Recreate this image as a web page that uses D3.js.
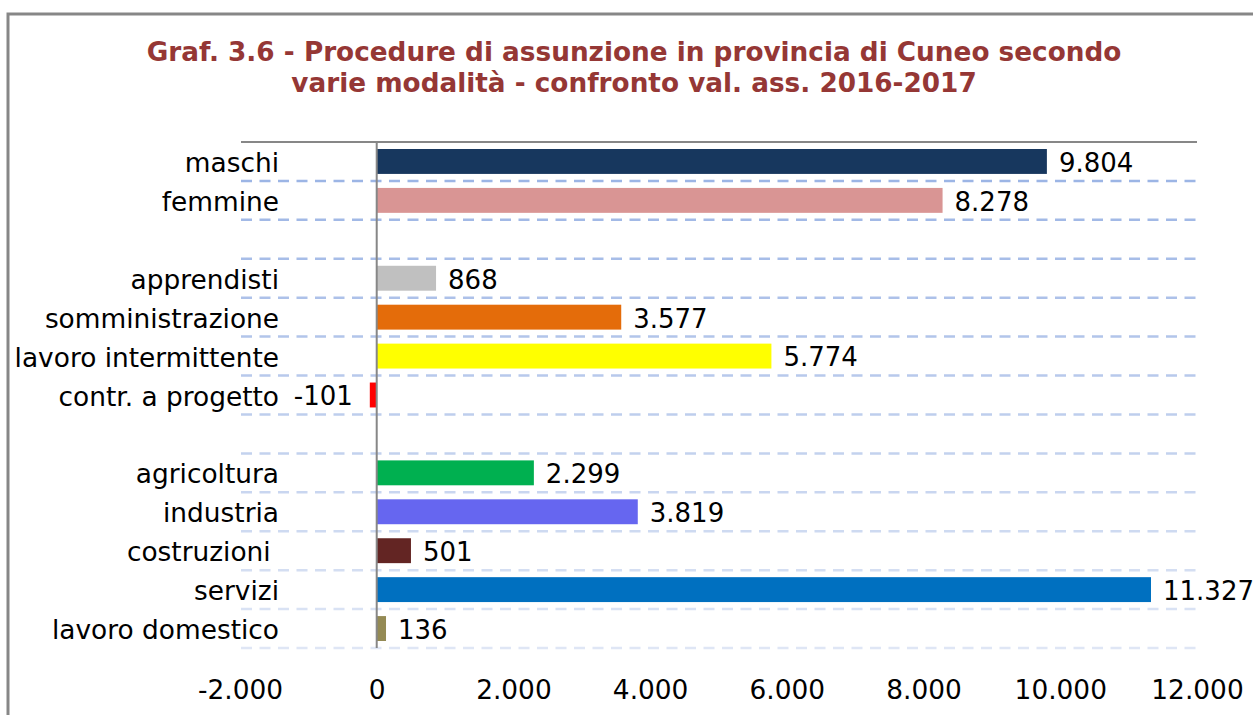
<!DOCTYPE html>
<html>
<head>
<meta charset="utf-8">
<script src="https://cdn.jsdelivr.net/npm/d3@7"></script>
<style>
	body { margin: 0; background: #fff; }
	text { font-family: Verdana, "DejaVu Sans", sans-serif; }
</style>
</head>
<body>
<svg id="chart" width="1253" height="715"></svg>
<script>
'use strict';

//Chart data (empty strings are the blank separator rows)
var categories = ["maschi", "femmine", "", "apprendisti", "somministrazione", "lavoro intermittente",
	"contr. a progetto", " ", "agricoltura", "industria", "costruzioni\u00a0", "servizi", "lavoro domestico"];
var values = [9804, 8278, null, 868, 3577, 5774, -101, null, 2299, 3819, 501, 11327, 136];
var barColors = ["#17375e", "#d99594", null, "#c0c0c0", "#e46c0a", "#ffff00", "#ff0000", null,
	"#00b050", "#6666f0", "#632523", "#0070c0", "#948a54"];
var tickValues = [-2000, 0, 2000, 4000, 6000, 8000, 10000, 12000];
var titleLines = ["Graf. 3.6 - Procedure di assunzione in provincia di Cuneo secondo",
	"varie modalità - confronto val. ass. 2016-2017"];

var svg = d3.select("#chart");

//Italian number format (dot as thousands separator, plain hyphen as minus)
var itFormat = d3.formatLocale({ decimal: ",", thousands: ".", grouping: [3], currency: ["€", ""], minus: "-" }).format(",d");

//Outer frame (cut off on the right and bottom like the source)
svg.append("rect")
	.attr("x", 8).attr("y", 14)
	.attr("width", 1300).attr("height", 760)
	.attr("fill", "none")
	.attr("stroke", "#878787")
	.attr("stroke-width", 3);

//Title
svg.append("g").selectAll("text")
	.data(titleLines)
	.enter().append("text")
	.attr("x", 634)
	.attr("y", function(d, i) { return 61 + i * 31; })
	.attr("text-anchor", "middle")
	.attr("font-weight", "bold")
	.attr("font-size", 26.3)
	.attr("fill", "#953735")
	.text(function(d) { return d; });

var plotLeft = 240, plotRight = 1197, plotTop = 142, plotBottom = 648;
var labelSize = 26.4;

var x = d3.scaleLinear()
	.domain([-2000, 12000])
	.range([plotLeft, plotRight]);

var y = d3.scaleBand()
	.domain(d3.range(categories.length))
	.range([plotTop, plotBottom])
	.paddingInner(0.36)
	.paddingOuter(0.18);

//Dashed gridlines at each row boundary, fading downwards
var step = y.step();
var boundaries = d3.range(1, categories.length + 1);
var gridColor = d3.interpolateRgb("#9cb5e5", "#dfe6f5");

svg.append("g").selectAll("line")
	.data(boundaries)
	.enter().append("line")
	.attr("x1", plotLeft + 1)
	.attr("x2", plotRight)
	.attr("y1", function(d) { return plotTop + d * step; })
	.attr("y2", function(d) { return plotTop + d * step; })
	.attr("stroke", function(d) { return gridColor((d - 1) / (categories.length - 1)); })
	.attr("stroke-width", 2.5)
	.attr("stroke-dasharray", "11 7.5");

//Top border of plot area
svg.append("line")
	.attr("x1", plotLeft + 1).attr("x2", plotRight)
	.attr("y1", plotTop).attr("y2", plotTop)
	.attr("stroke", "#878787")
	.attr("stroke-width", 2);

//Bars
var rows = d3.range(categories.length).filter(function(i) { return values[i] !== null; });

svg.append("g").selectAll("rect")
	.data(rows)
	.enter().append("rect")
	.attr("x", function(i) { return x(Math.min(0, values[i])); })
	.attr("y", function(i) { return y(i); })
	.attr("width", function(i) { return Math.abs(x(values[i]) - x(0)); })
	.attr("height", y.bandwidth())
	.attr("fill", function(i) { return barColors[i]; });

//Zero axis
svg.append("line")
	.attr("x1", x(0)).attr("x2", x(0))
	.attr("y1", plotTop).attr("y2", plotBottom)
	.attr("stroke", "#878787")
	.attr("stroke-width", 2);

//Value labels
svg.append("g").selectAll("text")
	.data(rows)
	.enter().append("text")
	.attr("x", function(i) { return values[i] < 0 ? x(values[i]) - 17 : x(values[i]) + 12; })
	.attr("y", function(i) { return y(i) + y.bandwidth() / 2; })
	.attr("dy", "0.4em")
	.attr("text-anchor", function(i) { return values[i] < 0 ? "end" : "start"; })
	.attr("font-size", 26)
	.attr("fill", "#000")
	.text(function(i) { return itFormat(values[i]); });

//Category labels
svg.append("g").selectAll("text")
	.data(rows)
	.enter().append("text")
	.attr("x", 279)
	.attr("y", function(i) { return y(i) + y.bandwidth() / 2; })
	.attr("dy", "0.4em")
	.attr("text-anchor", "end")
	.attr("font-size", labelSize)
	.attr("fill", "#000")
	.text(function(i) { return categories[i]; });

//Bottom axis (labels only)
var xAxis = d3.axisBottom(x)
	.tickValues(tickValues)
	.tickSize(0)
	.tickPadding(0)
	.tickFormat(itFormat);

var axisG = svg.append("g")
	.attr("transform", "translate(0," + 680 + ")")
	.call(xAxis);

axisG.select(".domain").remove();
axisG.selectAll("text")
	.attr("font-family", "Verdana, 'DejaVu Sans', sans-serif")
	.attr("font-size", labelSize)
	.attr("fill", "#000");
</script>
</body>
</html>
